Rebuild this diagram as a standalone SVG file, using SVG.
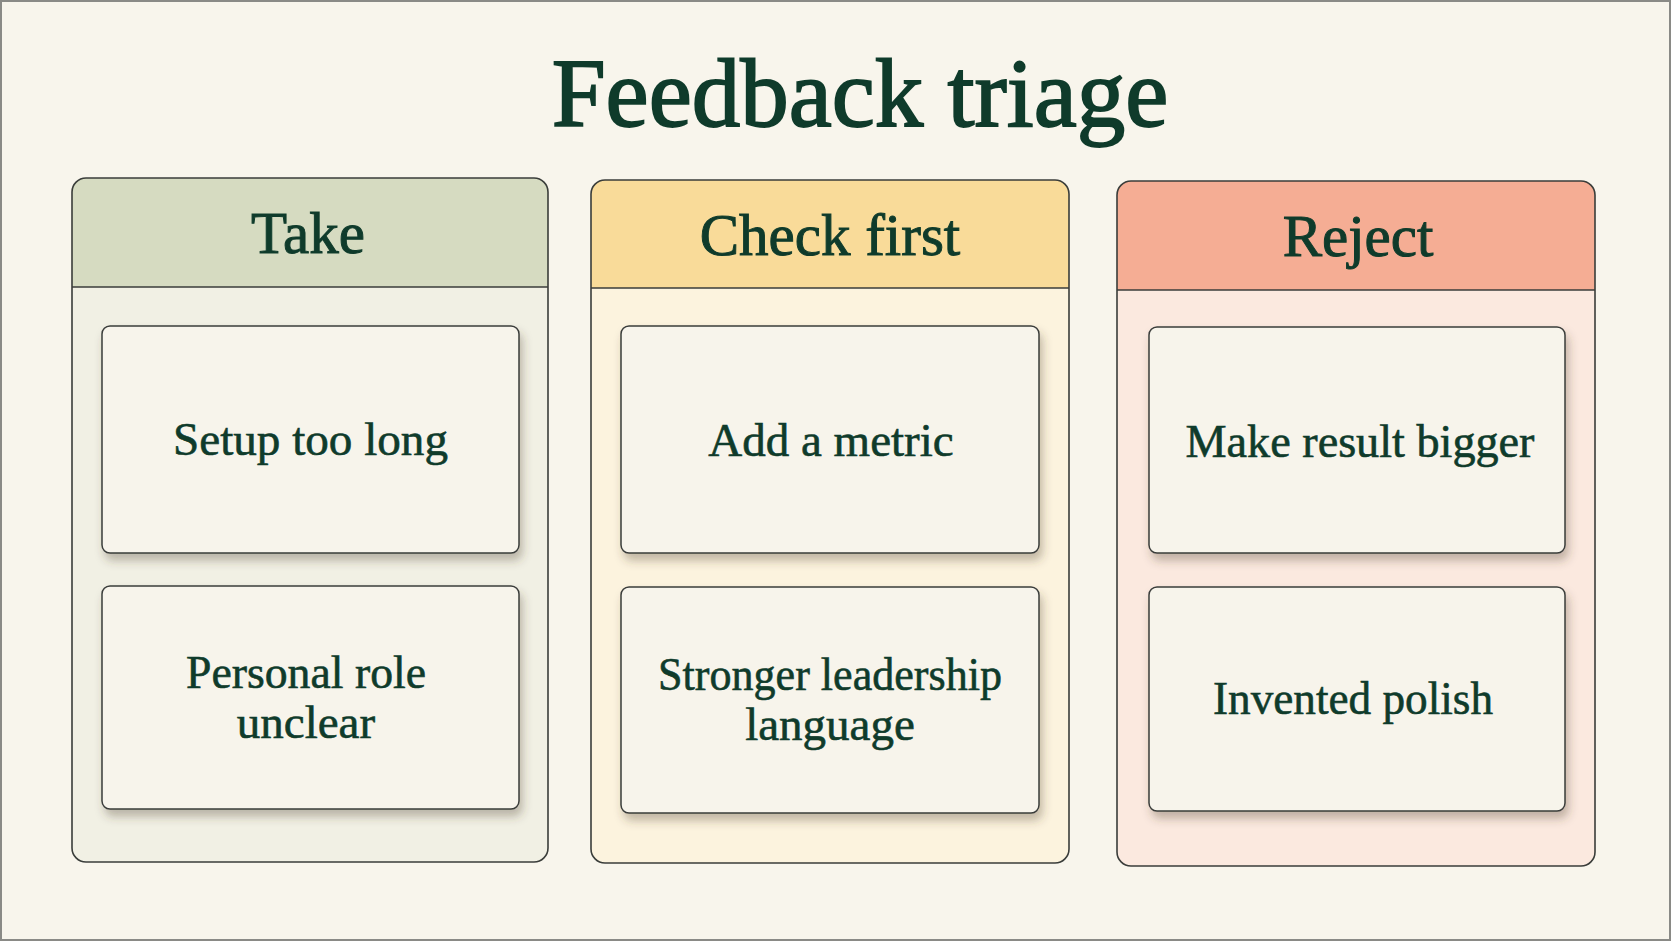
<svg xmlns="http://www.w3.org/2000/svg" width="1671" height="941" viewBox="0 0 1671 941">
  <defs>
    <style>
      .bg { fill: #f8f5ec; }
      .frame { fill: none; stroke: #8a8a86; stroke-width: 2; }
      .col-outline { fill: none; stroke: #3a3d3a; stroke-width: 1.6; }
      .divider { stroke: #3a3d3a; stroke-width: 1.6; }
      .card { fill: #f7f4eb; stroke: #3a3d3a; stroke-width: 1.5; filter: url(#shadow); }
      .txt { font-family: "Liberation Serif", "Times New Roman", serif; fill: #0f3b2b; text-anchor: middle; }
      .title { font-size: 97px; stroke: #0f3b2b; stroke-width: 1.8; }
      .head { font-size: 59px; stroke: #0f3b2b; stroke-width: 1.0; }
      .label { font-size: 47px; stroke: #0f3b2b; stroke-width: 0.6; }
    </style>
    <filter id="shadow" x="-10%" y="-10%" width="125%" height="130%">
      <feDropShadow dx="3" dy="7" stdDeviation="5" flood-color="#4a3f2a" flood-opacity="0.33"/>
    </filter>
  </defs>

  <rect class="bg" x="0" y="0" width="1671" height="941"/>
  <rect class="frame" x="1" y="1" width="1669" height="939"/>

  <g id="title">
    <text class="txt title" x="860" y="126">Feedback triage</text>
  </g>

  <!-- Column: Take -->
  <g id="col-take">
    <rect x="72" y="178" width="476" height="684" rx="14" fill="#f1f0e4"/>
    <path d="M72,287 V192 A14,14 0 0 1 86,178 H534 A14,14 0 0 1 548,192 V287 Z" fill="#d6dbc1"/>
    <line class="divider" x1="72" y1="287" x2="548" y2="287"/>
    <rect class="col-outline" x="72" y="178" width="476" height="684" rx="14"/>
    <text class="txt head" x="308" y="253">Take</text>
  </g>
  <g id="card-setup">
    <rect class="card" x="102" y="326" width="417" height="227" rx="8"/>
    <text class="txt label" x="310.5" y="455" textLength="275" lengthAdjust="spacingAndGlyphs">Setup too long</text>
  </g>
  <g id="card-personal">
    <rect class="card" x="102" y="586" width="417" height="223" rx="8"/>
    <text class="txt label" x="306" y="688" textLength="240" lengthAdjust="spacingAndGlyphs">Personal role</text>
    <text class="txt label" x="306" y="738">unclear</text>
  </g>

  <!-- Column: Check first -->
  <g id="col-check">
    <rect x="591" y="180" width="478" height="683" rx="14" fill="#fcf3de"/>
    <path d="M591,288 V194 A14,14 0 0 1 605,180 H1055 A14,14 0 0 1 1069,194 V288 Z" fill="#f9db99"/>
    <line class="divider" x1="591" y1="288" x2="1069" y2="288"/>
    <rect class="col-outline" x="591" y="180" width="478" height="683" rx="14"/>
    <text class="txt head" x="830" y="255">Check first</text>
  </g>
  <g id="card-metric">
    <rect class="card" x="621" y="326" width="418" height="227" rx="8"/>
    <text class="txt label" x="831" y="456">Add a metric</text>
  </g>
  <g id="card-leadership">
    <rect class="card" x="621" y="587" width="418" height="226" rx="8"/>
    <text class="txt label" x="830" y="690" textLength="344" lengthAdjust="spacingAndGlyphs">Stronger leadership</text>
    <text class="txt label" x="830" y="740">language</text>
  </g>

  <!-- Column: Reject -->
  <g id="col-reject">
    <rect x="1117" y="181" width="478" height="685" rx="14" fill="#fbe9df"/>
    <path d="M1117,290 V195 A14,14 0 0 1 1131,181 H1581 A14,14 0 0 1 1595,195 V290 Z" fill="#f5ad94"/>
    <line class="divider" x1="1117" y1="290" x2="1595" y2="290"/>
    <rect class="col-outline" x="1117" y="181" width="478" height="685" rx="14"/>
    <text class="txt head" x="1358" y="256">Reject</text>
  </g>
  <g id="card-bigger">
    <rect class="card" x="1149" y="327" width="416" height="226" rx="8"/>
    <text class="txt label" x="1360" y="457" textLength="349" lengthAdjust="spacingAndGlyphs">Make result bigger</text>
  </g>
  <g id="card-polish">
    <rect class="card" x="1149" y="587" width="416" height="224" rx="8"/>
    <text class="txt label" x="1353" y="714" textLength="280" lengthAdjust="spacingAndGlyphs">Invented polish</text>
  </g>

  <g id="connectors"></g>
</svg>
